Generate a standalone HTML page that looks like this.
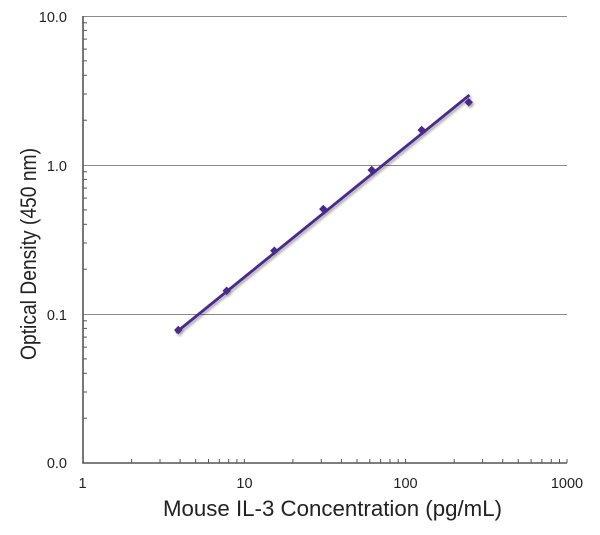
<!DOCTYPE html>
<html><head><meta charset="utf-8"><style>
html,body{margin:0;padding:0;background:#fff;}
svg{display:block;}
text{font-family:"Liberation Sans",sans-serif;fill:#222;}
</style></head><body>
<svg width="600" height="535" viewBox="0 0 600 535" xmlns="http://www.w3.org/2000/svg">
<defs>
<filter id="sh" x="-10%" y="-10%" width="130%" height="130%">
<feGaussianBlur in="SourceAlpha" stdDeviation="1.2"/>
<feOffset dx="1.5" dy="2" result="b"/>
<feComponentTransfer><feFuncA type="linear" slope="0.35"/></feComponentTransfer>
<feMerge><feMergeNode/><feMergeNode in="SourceGraphic"/></feMerge>
</filter>
</defs>
<!-- gridlines -->
<g stroke="#8a8a8a" stroke-width="1">
<line x1="83" y1="16.5" x2="567" y2="16.5"/>
<line x1="83" y1="165.5" x2="567" y2="165.5"/>
<line x1="83" y1="314.5" x2="567" y2="314.5"/>
</g>
<!-- axes -->
<g stroke="#555" stroke-width="1.6" fill="none">
<line x1="83" y1="16" x2="83" y2="463"/>
<line x1="82.2" y1="463" x2="567" y2="463"/>
</g>
<!-- y minor ticks -->
<g stroke="#555" stroke-width="1">
<line x1="83" x2="87" y1="22.8" y2="22.8"/><line x1="83" x2="87" y1="30.4" y2="30.4"/><line x1="83" x2="87" y1="39.1" y2="39.1"/><line x1="83" x2="87" y1="49.1" y2="49.1"/><line x1="83" x2="87" y1="60.9" y2="60.9"/><line x1="83" x2="87" y1="75.3" y2="75.3"/><line x1="83" x2="87" y1="94.0" y2="94.0"/><line x1="83" x2="87" y1="120.2" y2="120.2"/>
<line x1="83" x2="87" y1="171.8" y2="171.8"/><line x1="83" x2="87" y1="179.4" y2="179.4"/><line x1="83" x2="87" y1="188.1" y2="188.1"/><line x1="83" x2="87" y1="198.1" y2="198.1"/><line x1="83" x2="87" y1="209.9" y2="209.9"/><line x1="83" x2="87" y1="224.3" y2="224.3"/><line x1="83" x2="87" y1="243.0" y2="243.0"/><line x1="83" x2="87" y1="269.2" y2="269.2"/>
<line x1="83" x2="87" y1="320.8" y2="320.8"/><line x1="83" x2="87" y1="328.4" y2="328.4"/><line x1="83" x2="87" y1="337.1" y2="337.1"/><line x1="83" x2="87" y1="347.1" y2="347.1"/><line x1="83" x2="87" y1="358.9" y2="358.9"/><line x1="83" x2="87" y1="373.3" y2="373.3"/><line x1="83" x2="87" y1="392.0" y2="392.0"/><line x1="83" x2="87" y1="418.2" y2="418.2"/>
</g>
<!-- x minor ticks -->
<g stroke="#555" stroke-width="1">
<line y1="463" y2="459" x1="131.6" x2="131.6"/><line y1="463" y2="459" x1="160.0" x2="160.0"/><line y1="463" y2="459" x1="180.1" x2="180.1"/><line y1="463" y2="459" x1="195.7" x2="195.7"/><line y1="463" y2="459" x1="208.5" x2="208.5"/><line y1="463" y2="459" x1="219.3" x2="219.3"/><line y1="463" y2="459" x1="228.7" x2="228.7"/><line y1="463" y2="459" x1="236.9" x2="236.9"/><line y1="463" y2="459" x1="244.3" x2="244.3"/>
<line y1="463" y2="459" x1="292.9" x2="292.9"/><line y1="463" y2="459" x1="321.3" x2="321.3"/><line y1="463" y2="459" x1="341.4" x2="341.4"/><line y1="463" y2="459" x1="357.0" x2="357.0"/><line y1="463" y2="459" x1="369.8" x2="369.8"/><line y1="463" y2="459" x1="380.6" x2="380.6"/><line y1="463" y2="459" x1="390.0" x2="390.0"/><line y1="463" y2="459" x1="398.2" x2="398.2"/><line y1="463" y2="459" x1="405.6" x2="405.6"/>
<line y1="463" y2="459" x1="454.2" x2="454.2"/><line y1="463" y2="459" x1="482.6" x2="482.6"/><line y1="463" y2="459" x1="502.7" x2="502.7"/><line y1="463" y2="459" x1="518.3" x2="518.3"/><line y1="463" y2="459" x1="531.1" x2="531.1"/><line y1="463" y2="459" x1="541.9" x2="541.9"/><line y1="463" y2="459" x1="551.3" x2="551.3"/><line y1="463" y2="459" x1="559.5" x2="559.5"/><line y1="463" y2="459" x1="567" x2="567"/>
</g>
<!-- y tick labels -->
<g font-size="14.5" text-anchor="end">
<text x="67" y="22">10.0</text>
<text x="67" y="171">1.0</text>
<text x="67" y="320">0.1</text>
<text x="67" y="468">0.0</text>
</g>
<!-- x tick labels -->
<g font-size="14.5" text-anchor="middle">
<text x="82.5" y="488">1</text>
<text x="244.5" y="488">10</text>
<text x="405.5" y="488">100</text>
<text x="567" y="488">1000</text>
</g>
<!-- axis titles -->
<text x="163" y="516" font-size="22" textLength="339" lengthAdjust="spacingAndGlyphs">Mouse IL-3 Concentration (pg/mL)</text>
<text transform="translate(36,360) rotate(-90)" font-size="22" textLength="212" lengthAdjust="spacingAndGlyphs">Optical Density (450 nm)</text>
<!-- series -->
<g filter="url(#sh)" fill="#4a2c8c">
<line x1="176" y1="332.5" x2="469.5" y2="95" stroke="#4a2c8c" stroke-width="2.8"/>
<rect x="175.3" y="327" width="6" height="6" transform="rotate(45 178.3 330)"/>
<rect x="223.7" y="287.7" width="6" height="6" transform="rotate(45 226.7 290.7)"/>
<rect x="271.3" y="247.7" width="6" height="6" transform="rotate(45 274.3 250.7)"/>
<rect x="320.3" y="206" width="6" height="6" transform="rotate(45 323.3 209)"/>
<rect x="368.7" y="167" width="6" height="6" transform="rotate(45 371.7 170)"/>
<rect x="418.7" y="127" width="6" height="6" transform="rotate(45 421.7 130)"/>
<rect x="465.7" y="99.3" width="6" height="6" transform="rotate(45 468.7 102.3)"/>
</g>
</svg>
</body></html>
